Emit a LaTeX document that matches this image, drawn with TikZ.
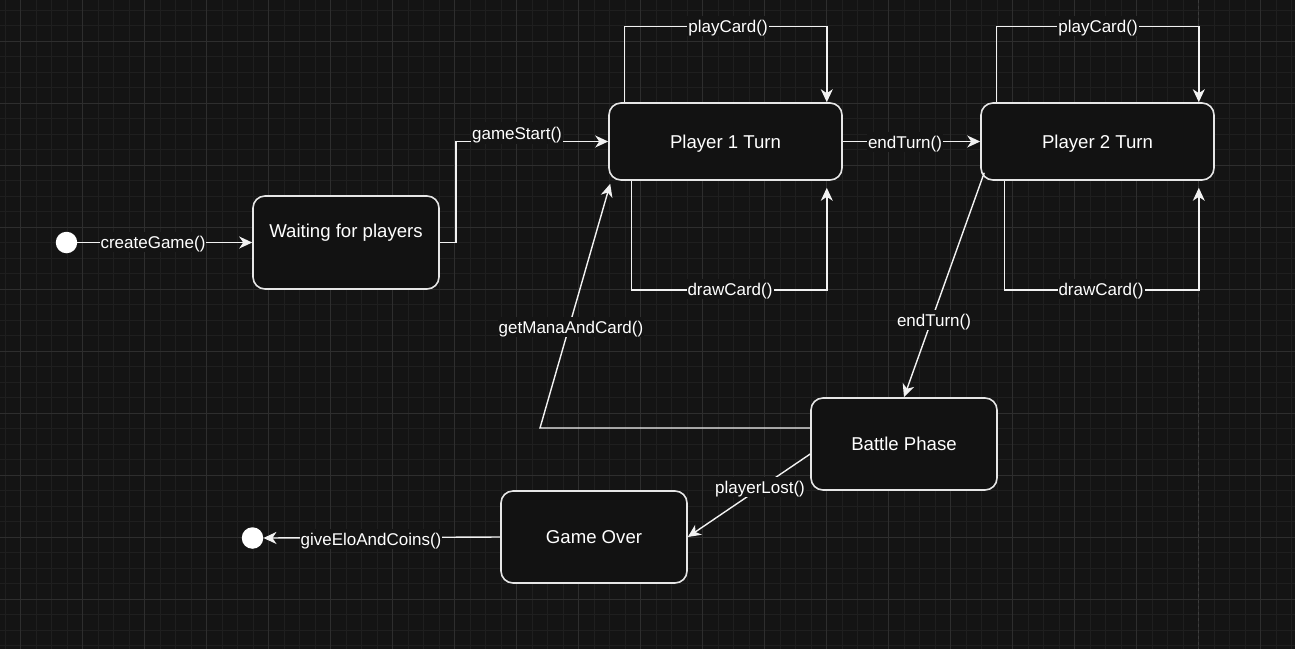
\documentclass[tikz,border=0pt]{standalone}
\usepackage{fontspec}
\setmainfont{Liberation Sans}
\usetikzlibrary{arrows.meta}
\definecolor{bgc}{HTML}{141414}
\definecolor{minorc}{HTML}{1F1F1F}
\definecolor{majorc}{HTML}{2E2E2E}
\definecolor{pagec}{HTML}{3C3C3C}
\definecolor{boxfill}{HTML}{121212}
\definecolor{linec}{HTML}{F2F2F2}
\definecolor{boxline}{HTML}{E6E6E6}
\begin{document}
\begin{tikzpicture}[x=1pt,y=-1pt,
  state/.style={draw=boxline, line width=1.6pt, fill=boxfill, rounded corners=12pt,
    inner sep=0pt, text=white, font=\fontsize{18.6}{22}\selectfont,
    text height=16.7pt, text depth=2.8pt},
  txt/.style={text=white, inner sep=0pt, font=\fontsize{18.6}{22}\selectfont,
    text height=16.7pt, text depth=2.8pt},
  dot/.style={circle, fill=white, draw=none, minimum size=21.5pt, inner sep=0pt},
  edge/.style={draw=linec, line width=1.4pt,
    -{Stealth[length=13pt, width=12pt, inset=4pt]}},
  lbl/.style={fill=bgc, text=white, inner xsep=1pt, inner ysep=1pt,
    font=\fontsize{17}{20}\selectfont, text height=15pt, text depth=3pt}]
% background and grid
\fill[bgc] (0,0) rectangle (1295,649);
\useasboundingbox (0,0) rectangle (1295,649);
\foreach \i in {0,...,83} \draw[minorc, line width=1pt] (5.2+15.5*\i,0) -- (5.2+15.5*\i,649);
\foreach \i in {0,...,41} \draw[minorc, line width=1pt] (0,10.3+15.5*\i) -- (1295,10.3+15.5*\i);
\foreach \i in {0,...,20} \draw[majorc, line width=1pt] (20.7+62*\i,0) -- (20.7+62*\i,649);
\foreach \i in {0,...,10} \draw[majorc, line width=1pt] (0,41.3+62*\i) -- (1295,41.3+62*\i);
\draw[pagec, line width=1pt, dash pattern=on 3pt off 3pt] (1198.7,0) -- (1198.7,649);

% states
\node[state, minimum width=186pt, minimum height=93pt] (wait) at (346,242.5) {};
\node[txt] (waittxt) at (346,231) {Waiting for players};
\node[state, minimum width=233pt, minimum height=77pt] (p1) at (725.5,141.5) {Player 1 Turn};
\node[state, minimum width=233pt, minimum height=77pt] (p2) at (1097.5,141.5) {Player 2 Turn};
\node[state, minimum width=186pt, minimum height=92pt] (battle) at (904,444) {Battle Phase};
\node[state, minimum width=186pt, minimum height=92pt] (over) at (594,537) {Game Over};
\node[dot] (start) at (66.5,242.5) {};
\node[dot] (end) at (252.5,538) {};

% connectors
\draw[edge] (start.east) -- (wait.west);
\node[lbl] (l1) at (153,242) {createGame()};

\draw[edge] (wait.east) -- ++(16,0) |- (p1.west);
\node[lbl, minimum height=22pt] (l2) at (517,133) {gameStart()};

\draw[edge] ([xshift=16pt]p1.north west) -- ++(0,-76) -| ([xshift=-16pt]p1.north east);
\node[lbl] (l3) at (728,26) {playCard()};

\draw[edge] ([xshift=23pt]p1.south west) -- ++(0,109) -| ([xshift=-16pt,yshift=-7pt]p1.south east);
\node[lbl] (l4) at (730,289) {drawCard()};

\draw[edge] (p1.east) -- (p2.west);
\node[lbl] (l5) at (905,142) {endTurn()};

\draw[edge] ([xshift=16pt]p2.north west) -- ++(0,-76) -| ([xshift=-16pt]p2.north east);
\node[lbl] (l6) at (1098,26) {playCard()};

\draw[edge] ([xshift=24pt]p2.south west) -- ++(0,109) -| ([xshift=-16pt,yshift=-7pt]p2.south east);
\node[lbl] (l7) at (1101,289) {drawCard()};

\draw[edge] ([xshift=4pt,yshift=8pt]p2.south west) -- (battle.north);
\node[lbl] (l8) at (934,320) {endTurn()};

\coordinate (bend) at (540,428);
\draw[edge] ([yshift=16pt]battle.west) -- (bend) -- ([xshift=2pt,yshift=-3pt]p1.south west);
\node[lbl] (l9) at (571,327) {getManaAndCard()};

\draw[edge] ([yshift=-10pt]battle.west) -- (over.east);
\node[lbl] (l10) at (760,487) {playerLost()};

\draw[edge] (over.west) -- (end.east);
\node[lbl] (l11) at (371,539) {giveEloAndCoins()};
\end{tikzpicture}
\end{document}
